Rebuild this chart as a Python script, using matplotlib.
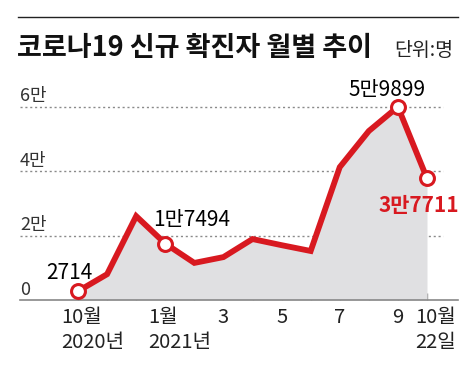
import matplotlib
matplotlib.use("Agg")
import matplotlib.pyplot as plt
from matplotlib.transforms import ScaledTranslation

plt.rcParams['font.family'] = ['Noto Sans CJK KR', 'DejaVu Sans']

months = ['10월\n2020년', '', '', '1월\n2021년', '', '3', '', '5', '', '7', '', '9', '10월\n22일']
values = [2714, 8000, 26000, 17494, 11500, 13300, 18900, 17000, 15200, 41200, 52400, 59899, 37711]
highlight_idx = [0, 3, 11, 12]
point_labels = {0: '2714', 3: '1만7494', 11: '5만9899', 12: '3만7711'}
yticks = [0, 20000, 40000, 60000]
ytick_labels = ['0', '2만', '4만', '6만']

W, H = 474, 369
fig = plt.figure(figsize=(W / 100, H / 100), dpi=100)

red = '#d81920'
gray_fill = '#e0e0e2'

left_px, right_px, top_px, bot_px = 20, 458, 80, 300
ax = fig.add_axes([left_px / W, (H - bot_px) / H, (right_px - left_px) / W, (bot_px - top_px) / H])

x = list(range(len(values)))
step = 29.08
ax.set_xlim(0 - (78 - left_px) / step, 12 + (right_px - 427) / step)
ax.set_ylim(0, (bot_px - top_px) / 64.5 * 20000)

for yv in yticks[1:]:
    ax.plot([0, 0.966], [yv, yv], transform=ax.get_yaxis_transform(), color='#8a8a8a',
            lw=1.0, ls=(0, (1.5, 2)), zorder=1)

ax.fill_between(x, values, 0, color=gray_fill, zorder=2, lw=0)
ax.plot(x, values, color=red, lw=4.2, solid_joinstyle='miter', zorder=3)
ax.plot([x[i] for i in highlight_idx], [values[i] for i in highlight_idx], 'o', ms=10,
        mfc='white', mec=red, mew=2.2, zorder=4)

for yv, lab in zip(yticks, ytick_labels):
    ax.annotate(lab, xy=(0, yv), xycoords=ax.get_yaxis_transform(), xytext=(0, 1),
                textcoords='offset points', ha='left', va='bottom', fontsize=13, color='#333333')

offsets = {0: (-6, 5, 'black', 'normal'), 3: (19, 9, 'black', 'normal'),
           11: (-8, 4, 'black', 'normal'), 12: (-6, -12, red, 'bold')}
for i, lab in point_labels.items():
    dx, dy, c, w = offsets[i]
    ax.annotate(lab, xy=(x[i], values[i]), xytext=(dx, dy), textcoords='offset points',
                ha='center', va='bottom' if dy > 0 else 'top', fontsize=15, color=c,
                fontweight=w, zorder=5)

for s in ['top', 'right', 'left']:
    ax.spines[s].set_visible(False)
ax.spines['bottom'].set_color('#888888')
ax.spines['bottom'].set_linewidth(1.2)
ax.set_yticks([])
ax.set_xticks(x)
ax.set_xticklabels(months, fontsize=14.5, color='#222222', linespacing=1.25)
ax.tick_params(axis='x', direction='in', length=5, width=1, color='#888888', pad=5)
for i, lab in enumerate(ax.get_xticklabels()):
    if '\n' in months[i]:
        lab.set_ha('left')
        lab.set_multialignment('left')
        shift = -17 if i < 12 else -12
        lab.set_transform(lab.get_transform() + ScaledTranslation(shift / 100, 0, fig.dpi_scale_trans))

fig.add_artist(plt.Line2D([18 / W, 458 / W], [1 - 17 / H, 1 - 17 / H], color='#222222', lw=1.0))
fig.text(17 / W, 1 - 48 / H, '코로나19 신규 확진자 월별 추이', fontsize=19.5, fontweight='bold',
         ha='left', va='center', color='#111111')
fig.text(453 / W, 1 - 50 / H, '단위:명', fontsize=14, ha='right', va='center', color='#222222')

fig.savefig('out.png', dpi=100)
